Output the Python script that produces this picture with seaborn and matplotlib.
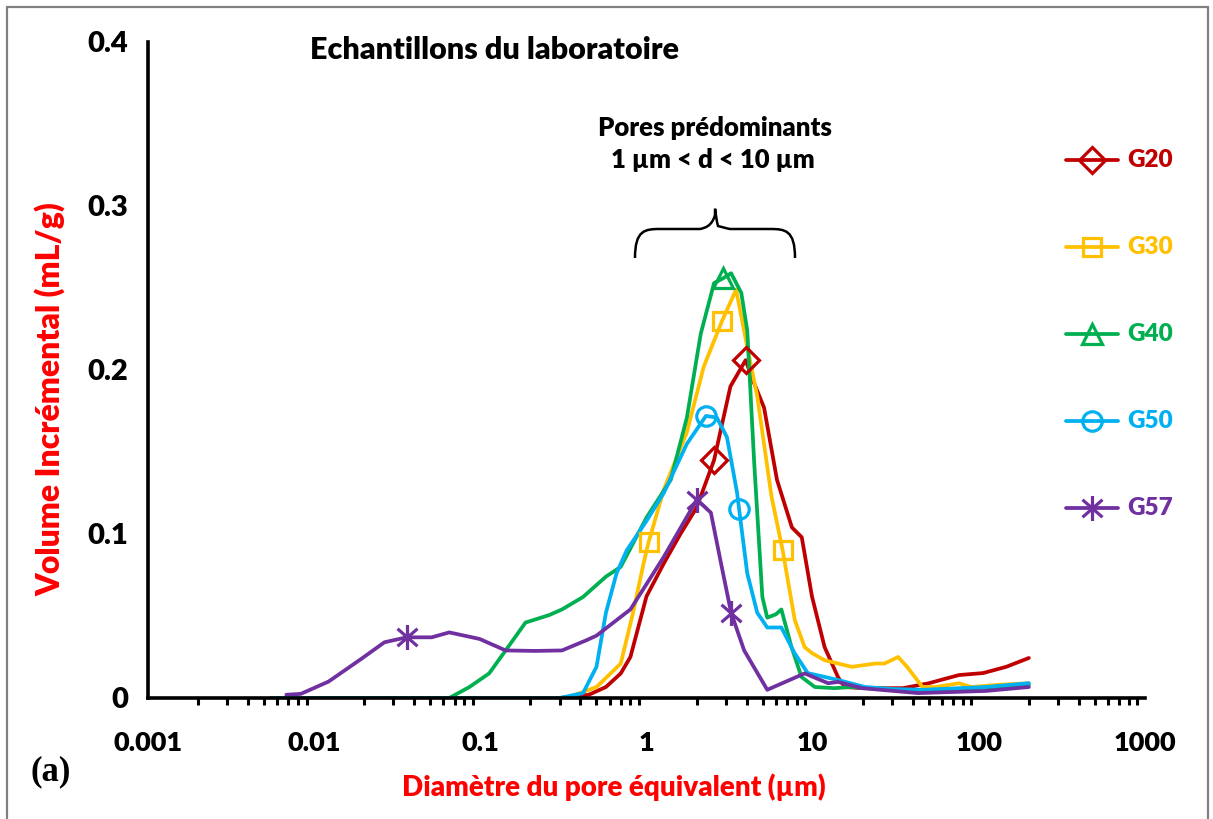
import numpy as np
import pandas as pd
import matplotlib
matplotlib.use("Agg")
import matplotlib.pyplot as plt
from matplotlib.lines import Line2D
from matplotlib.path import Path
from matplotlib.patches import PathPatch, Rectangle
import seaborn as sns

# ---------------- data ----------------
samples = ["G20", "G30", "G40", "G50", "G57"]
colors = ["#C00000", "#FFC000", "#00B050", "#00B0F0", "#7030A0"]

g20_d = [0.0055, 0.30, 0.45, 0.57, 0.70, 0.80, 1.0, 1.27, 1.6, 2.0, 2.55, 3.2, 3.95,
         4.4, 5.1, 6.1, 7.5, 8.6, 9.9, 11.8, 14.2, 15.6, 20, 35, 50, 76, 106, 146, 200]
g20_v = [0, 0, 0.002, 0.0067, 0.015, 0.025, 0.062, 0.082, 0.100, 0.116, 0.145, 0.190, 0.206,
         0.193, 0.177, 0.133, 0.104, 0.098, 0.062, 0.031, 0.0128, 0.0067, 0.006, 0.006, 0.009,
         0.014, 0.0152, 0.019, 0.0244]

g30_d = [0.0055, 0.33, 0.50, 0.70, 0.83, 0.96, 1.03, 1.27, 1.75, 2.21, 2.85, 3.46, 4.04,
         4.64, 5.65, 6.6, 7.8, 8.95, 9.9, 11.8, 17.2, 23.8, 27, 32.7, 37, 45.8, 55, 76,
         90, 130, 200]
g30_v = [0, 0, 0.0067, 0.021, 0.052, 0.082, 0.095, 0.127, 0.162, 0.202, 0.230, 0.249, 0.214,
         0.184, 0.123, 0.090, 0.0476, 0.031, 0.0274, 0.023, 0.019, 0.021, 0.021, 0.025, 0.019,
         0.0067, 0.0067, 0.009, 0.0067, 0.008, 0.009]

g40_d = [0.0055, 0.065, 0.086, 0.113, 0.142, 0.187, 0.26, 0.31, 0.415, 0.57, 0.70, 1.0,
         1.40, 1.75, 2.12, 2.55, 2.9, 3.23, 3.72, 4.04, 4.45, 4.98, 5.33, 6.0, 6.48, 7.46,
         8.57, 10.3, 13.6, 17, 43, 200]
g40_v = [0, 0, 0.0067, 0.015, 0.029, 0.046, 0.0506, 0.054, 0.0616, 0.074, 0.080, 0.110,
         0.133, 0.171, 0.222, 0.253, 0.256, 0.259, 0.247, 0.224, 0.143, 0.0616, 0.049, 0.051,
         0.054, 0.031, 0.0128, 0.0067, 0.006, 0.0067, 0.0037, 0.008]

g50_d = [0.0055, 0.30, 0.415, 0.50, 0.57, 0.66, 0.76, 1.0, 1.27, 1.75, 2.28, 2.65, 3.05,
         3.51, 3.61, 4.04, 4.64, 5.33, 6.48, 7.78, 9.34, 14.2, 20.7, 30, 46, 110, 200]
g50_v = [0, 0, 0.003, 0.019, 0.052, 0.076, 0.090, 0.108, 0.125, 0.155, 0.172, 0.171, 0.159,
         0.125, 0.115, 0.076, 0.052, 0.043, 0.043, 0.0274, 0.0152, 0.011, 0.0067, 0.0055,
         0.005, 0.0067, 0.009]

g57_d = [0.0068, 0.0083, 0.0122, 0.0193, 0.0265, 0.036, 0.051, 0.065, 0.099, 0.142, 0.215,
         0.31, 0.43, 0.50, 0.80, 1.27, 2.01, 2.44, 2.81, 3.23, 3.87, 5.33, 8.95, 12.4, 14.2,
         19.8, 43, 110, 200]
g57_v = [0.002, 0.0025, 0.010, 0.024, 0.034, 0.037, 0.037, 0.040, 0.036, 0.029, 0.0287,
         0.029, 0.035, 0.038, 0.054, 0.086, 0.121, 0.113, 0.082, 0.052, 0.029, 0.005, 0.015,
         0.009, 0.0098, 0.006, 0.003, 0.0043, 0.0067]

# marker positions (Excel shows markers only on a few points)
g20_md, g20_mv = [2.55, 3.95], [0.145, 0.206]
g30_md, g30_mv = [1.03, 2.85, 6.6], [0.095, 0.230, 0.090]
g40_md, g40_mv = [2.9], [0.256]
g50_md, g50_mv = [2.28, 3.61], [0.172, 0.115]
g57_md, g57_mv = [0.036, 2.01, 3.23], [0.037, 0.121, 0.052]

x_ticks = [0.001, 0.01, 0.1, 1, 10, 100, 1000]
x_ticklabels = ["0.001", "0.01", "0.1", "1", "10", "100", "1000"]
y_ticks = [0, 0.1, 0.2, 0.3, 0.4]
y_ticklabels = ["0", "0.1", "0.2", "0.3", "0.4"]

# ---------------- build frame ----------------
series_d = [g20_d, g30_d, g40_d, g50_d, g57_d]
series_v = [g20_v, g30_v, g40_v, g50_v, g57_v]
marks_d = [g20_md, g30_md, g40_md, g50_md, g57_md]
marks_v = [g20_mv, g30_mv, g40_mv, g50_mv, g57_mv]

df = pd.concat([pd.DataFrame({"d": d, "v": v, "sample": s})
                for s, d, v in zip(samples, series_d, series_v)], ignore_index=True)

# ---------------- style ----------------
sns.set_theme(style="white")
plt.rcParams["font.family"] = ["Lato", "DejaVu Sans"]
BW = "heavy"
plt.rcParams["font.weight"] = BW

W, H = 1213, 819
fig = plt.figure(figsize=(W / 100, H / 100), dpi=100)
ax = fig.add_axes([148 / W, 1 - 698 / H, (1145 - 148) / W, (698 - 42) / H])

star_path = Path([(0, -1), (0, 1), (-0.8, -0.7), (0.8, 0.7), (-0.8, 0.7), (0.8, -0.7)],
                 [Path.MOVETO, Path.LINETO, Path.MOVETO, Path.LINETO, Path.MOVETO, Path.LINETO])
markers = ["D", "s", "^", "o", star_path]
msizes = [13, 13, 14, 14, 18]

sns.lineplot(data=df, x="d", y="v", hue="sample", palette=dict(zip(samples, colors)),
             sort=False, estimator=None, legend=False, lw=2.7, ax=ax)
for line in ax.get_lines():
    line.set_solid_joinstyle("round")
    line.set_solid_capstyle("round")

for c, mk, ms, md, mv in zip(colors, markers, msizes, marks_d, marks_v):
    ax.plot(md, mv, ls="none", marker=mk, ms=ms, mfc="none", mec=c, mew=2.3, zorder=5)

ax.set_xscale("log")
ax.set_xlim(0.001, 1000)
ax.set_ylim(0, 0.4)
ax.set_xticks(x_ticks)
ax.set_xticklabels(x_ticklabels)
ax.set_yticks(y_ticks)
ax.set_yticklabels(y_ticklabels)
ax.xaxis.set_minor_locator(matplotlib.ticker.LogLocator(base=10, subs=np.arange(2, 10)))
ax.xaxis.set_minor_formatter(matplotlib.ticker.NullFormatter())

for side in ["top", "right"]:
    ax.spines[side].set_visible(False)
for side in ["left", "bottom"]:
    ax.spines[side].set_linewidth(2.6)
    ax.spines[side].set_color("black")
ax.tick_params(axis="both", which="major", direction="out", length=8, width=2.6,
               color="black", labelcolor="black")
ax.tick_params(axis="x", which="major", pad=16, labelsize=19.5)
ax.tick_params(axis="y", which="major", pad=6, labelsize=21)
ax.tick_params(axis="x", which="minor", direction="out", length=5, width=2.2, color="black",
               bottom=True)
for lab in ax.get_xticklabels() + ax.get_yticklabels():
    lab.set_fontweight(BW)
ax.set_xlabel("")
ax.set_ylabel("")
ax.grid(False)

# axis titles
fig.text(614 / W, 1 - 787 / H, "Diamètre du pore équivalent (µm)", color="#FF0000",
         fontsize=20, fontweight=BW, ha="center", va="center")
fig.text(50 / W, 1 - 399 / H, "Volume Incrémental (mL/g)", color="#FF0000",
         fontsize=23, fontweight=BW, ha="center", va="center", rotation=90)
fig.text(30 / W, 1 - 772 / H, "(a)", family=["Liberation Serif", "DejaVu Serif"],
         fontsize=25, fontweight="bold", ha="left", va="center", color="black")

# chart title and annotation
fig.text(310 / W, 1 - 50 / H, "Echantillons du laboratoire", fontsize=22,
         fontweight=BW, ha="left", va="center", color="black")
fig.text(715 / W, 1 - 128 / H, "Pores prédominants", fontsize=18.5,
         fontweight=BW, ha="center", va="center", color="black")
fig.text(713 / W, 1 - 160 / H, "1 µm < d < 10 µm", fontsize=18.5,
         fontweight=BW, ha="center", va="center", color="black")

# curly brace (figure pixel coordinates)
def P(x, y):
    return (x / W, 1 - y / H)

verts = [P(635, 258), P(635, 230), P(645, 229), P(660, 229),
         P(700, 229), P(700, 229), P(705, 228), P(712, 226), P(715, 215), P(715, 200),
         P(715, 215), P(718, 226), P(725, 228), P(730, 229), P(730, 229), P(770, 229),
         P(785, 229), P(795, 230), P(795, 258)]
codes = [Path.MOVETO, Path.CURVE4, Path.CURVE4, Path.CURVE4,
         Path.LINETO, Path.LINETO, Path.CURVE4, Path.CURVE4, Path.CURVE4, Path.CURVE4,
         Path.CURVE4, Path.CURVE4, Path.CURVE4, Path.LINETO, Path.LINETO, Path.LINETO,
         Path.CURVE4, Path.CURVE4, Path.CURVE4]
fig.add_artist(PathPatch(Path(verts, codes), transform=fig.transFigure, fill=False,
                         lw=1.8, edgecolor="black"))

# legend drawn at the right side
for i, (s, c, mk, ms) in enumerate(zip(samples, colors, markers, msizes)):
    yp = 160 + 87 * i
    fig.add_artist(Line2D([1066 / W, 1092 / W, 1118 / W], [1 - yp / H] * 3,
                          transform=fig.transFigure, color=c, lw=2.7,
                          marker=mk, ms=ms, mfc="none", mec=c, mew=2.3, markevery=[1]))
    fig.text(1127 / W, 1 - yp / H, s, color=c, fontsize=17.5, fontweight=BW,
             ha="left", va="center")

# gray outer frame
fig.add_artist(Rectangle((7 / W, -0.05), (1208 - 7) / W, 1.05 - 7 / H,
                         transform=fig.transFigure, fill=False, edgecolor="#808080", lw=1.6))

fig.savefig("out.png", dpi=100)
